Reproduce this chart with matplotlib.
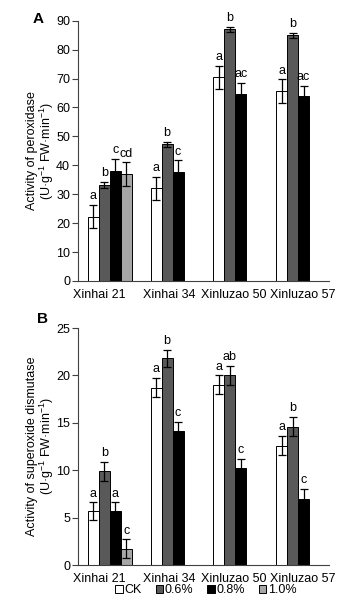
import numpy as np
import matplotlib
matplotlib.use('Agg')
import matplotlib.pyplot as plt
from matplotlib.patches import Patch

plt.rcParams['font.family'] = ['Liberation Sans', 'DejaVu Sans']
plt.rcParams['mathtext.fontset'] = 'custom'
plt.rcParams['mathtext.rm'] = 'Liberation Sans'
plt.rcParams['mathtext.it'] = 'Liberation Sans:italic'
plt.rcParams['mathtext.bf'] = 'Liberation Sans:bold'
plt.rcParams['font.size'] = 9

# Cultivars and treatments
cultivars = ['Xinhai 21', 'Xinhai 34', 'Xinluzao 50', 'Xinluzao 57']
treatments = ['CK', '0.6%', '0.8%', '1.0%']
colors = ['white', '#595959', 'black', '#a6a6a6']

# Peroxidase activity (A), nan = not measured
pod_mean = [[22.3, 32.0, 70.4, 65.7],
            [33.2, 47.2, 87.0, 85.0],
            [38.2, 37.7, 64.5, 63.8],
            [37.0, np.nan, np.nan, np.nan]]
pod_err = [[4.0, 4.0, 4.0, 4.0],
           [1.0, 1.0, 0.8, 0.9],
           [4.0, 4.0, 4.0, 3.8],
           [4.0, np.nan, np.nan, np.nan]]
pod_let = [['a', 'a', 'a', 'a'],
           ['b', 'b', 'b', 'b'],
           ['c', 'c', 'ac', 'ac'],
           ['cd', '', '', '']]

# Superoxide dismutase activity (B)
sod_mean = [[5.7, 18.7, 19.0, 12.6],
            [9.9, 21.8, 20.0, 14.6],
            [5.7, 14.1, 10.2, 7.0],
            [1.7, np.nan, np.nan, np.nan]]
sod_err = [[0.9, 1.0, 1.0, 1.0],
           [1.0, 0.9, 1.0, 1.0],
           [0.9, 1.0, 1.0, 1.0],
           [1.0, np.nan, np.nan, np.nan]]
sod_let = [['a', 'a', 'a', 'a'],
           ['b', 'b', 'ab', 'b'],
           ['a', 'c', 'c', 'c'],
           ['c', '', '', '']]

fig = plt.figure(figsize=(3.51, 6.13), dpi=100)
axA = fig.add_axes([0.2236, 0.5416, 0.7151, 0.4246])
axB = fig.add_axes([0.2236, 0.0783, 0.7151, 0.3866])

x = np.arange(len(cultivars))
w = 0.175
# category labels sit a little off the group centres, as in the original
label_shift = np.array([-0.17, -0.05, -0.02, 0.07])


def draw_panel(ax, mean, err, lets, ymax, ystep, ylabel, tag, tagpos):
    for j in range(len(treatments)):
        m = np.array(mean[j], dtype=float)
        e = np.array(err[j], dtype=float)
        ok = ~np.isnan(m)
        xp = x[ok] + (j - 1.5) * w
        ax.bar(xp, m[ok], w, color=colors[j], edgecolor='black', linewidth=0.7)
        ax.errorbar(xp, m[ok], yerr=e[ok], fmt='none', ecolor='black',
                    elinewidth=0.9, capsize=2.7, capthick=0.9)
        for xi, mi, ei, li in zip(xp, m[ok], e[ok], np.array(lets[j])[ok]):
            ax.annotate(li, (xi, mi + ei), xytext=(0, 2), textcoords='offset points',
                        ha='center', va='bottom', fontsize=9)
    ax.set_xlim(-0.5, 3.5)
    ax.set_ylim(0, ymax)
    ax.set_yticks(np.arange(0, ymax + 0.1, ystep))
    ax.set_xticks(x + label_shift)
    ax.set_xticklabels(cultivars)
    ax.tick_params(axis='x', length=0, pad=6)
    ax.tick_params(axis='y', length=4, width=0.8, direction='out', pad=2, color='#404040')
    for s in ['top', 'right']:
        ax.spines[s].set_visible(False)
    for s in ['left', 'bottom']:
        ax.spines[s].set_color('#404040')
        ax.spines[s].set_linewidth(0.8)
    ax.set_ylabel(ylabel, fontsize=9, linespacing=1.0)
    ax.yaxis.set_label_coords(-0.088, 0.5)
    ax.text(tagpos[0], tagpos[1], tag, transform=ax.transAxes, fontsize=11,
            fontweight='bold', ha='right', va='center')


draw_panel(axA, pod_mean, pod_err, pod_let, 90, 10,
           'Activity of peroxidase\n(U·g$^{-1}$ FW·min$^{-1}$)', 'A', (-0.14, 1.007))
draw_panel(axB, sod_mean, sod_err, sod_let, 25, 5,
           'Activity of superoxide dismutase\n(U·g$^{-1}$ FW·min$^{-1}$)', 'B', (-0.12, 1.036))

handles = [Patch(facecolor=c, edgecolor='black', linewidth=0.7) for c in colors]
fig.legend(handles, treatments, loc='center', bbox_to_anchor=(0.587, 0.037), ncol=4,
           frameon=False, handlelength=0.6, handleheight=0.6, handletextpad=0.15,
           columnspacing=1.1, fontsize=9)

fig.savefig('out.png', dpi=100)
